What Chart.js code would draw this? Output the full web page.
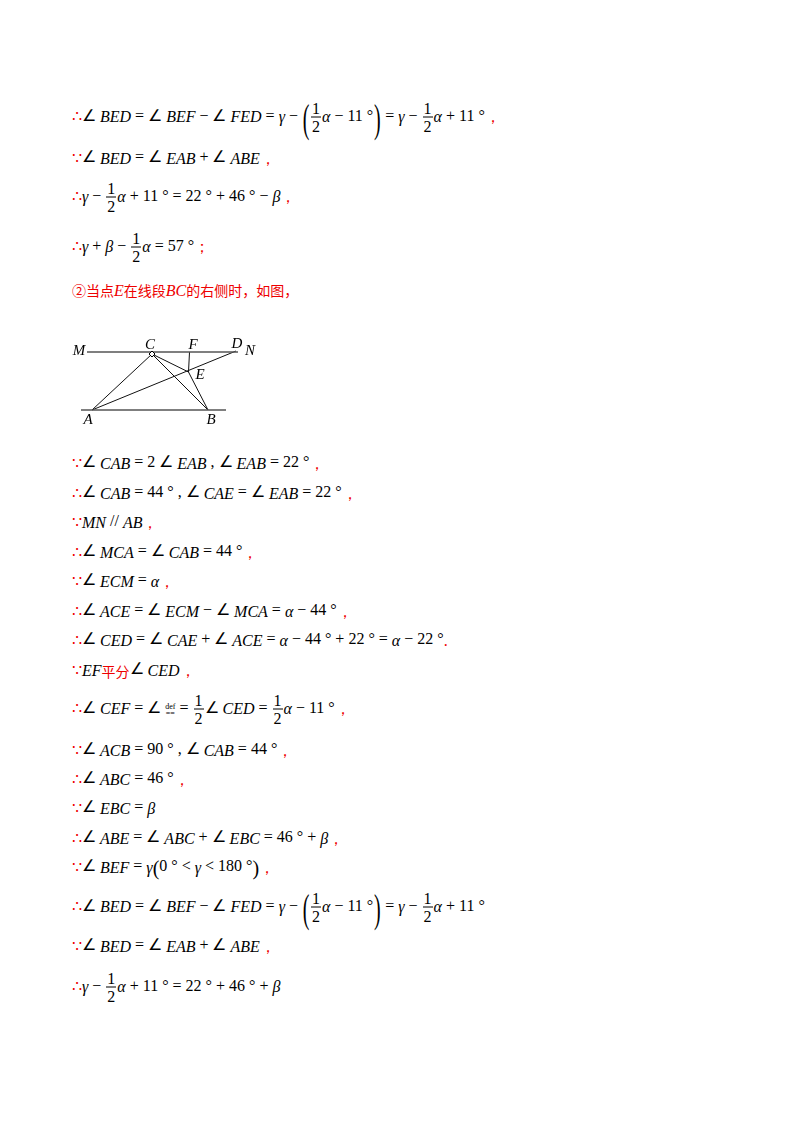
<!DOCTYPE html><html><head><meta charset="utf-8">
<script src="https://cdn.jsdelivr.net/npm/chart.js"></script>
<style>
body{margin:0;width:800px;height:1132px;background:#fff;position:relative;font-family:"Liberation Serif","Times New Roman",serif;font-size:16px;color:#000}
.l{position:absolute;left:72px;white-space:pre;transform:translateY(-50%);line-height:20px}
.l>*{vertical-align:middle}
.r{color:#e00}
i{font-style:italic;font-family:"Liberation Serif",serif}
.f{display:inline-flex;flex-direction:column;align-items:center;margin:0 1px;line-height:17px}
.f span:first-child{border-bottom:1px solid #000;padding:0 1px}
.p{display:inline-block;font-size:20px;transform:scaleY(2);width:8px;text-align:center}
.cn{font-family:"Noto Sans CJK SC";font-size:14px}
#fig{position:absolute;left:60px;top:330px;width:220px;height:100px}
</style></head><body>
<div id="fig"><canvas id="c" width="220" height="100"></canvas></div>
<script>
const H='<span class="f"><span>1</span><span>2</span></span>';
const T='<span class="r">∴</span>',B='<span class="r">∵</span>',C='<span class="r">，</span>';
const lines=[
[117,T+'∠ <i>BED</i> = ∠ <i>BEF</i> − ∠ <i>FED</i> = <i>γ</i> − <span class="p">(</span>'+H+'<i>α</i> − 11 °<span class="p">)</span> = <i>γ</i> − '+H+'<i>α</i> + 11 °'+C],
[158,B+'∠ <i>BED</i> = ∠ <i>EAB</i> + ∠ <i>ABE</i>'+C],
[197,T+'<i>γ</i> − '+H+'<i>α</i> + 11 ° = 22 ° + 46 ° − <i>β</i>'+C],
[247,T+'<i>γ</i> + <i>β</i> − '+H+'<i>α</i> = 57 °<span class="r">；</span>'],
[290,'<span class="r cn">②当点<i style="font-size:16px">E</i>在线段<i style="font-size:16px">BC</i>的右侧时，如图，</span>'],
[463,B+'∠ <i>CAB</i> = 2 ∠ <i>EAB</i> , ∠ <i>EAB</i> = 22 °'+C],
[493,T+'∠ <i>CAB</i> = 44 ° , ∠ <i>CAE</i> = ∠ <i>EAB</i> = 22 °'+C],
[522,B+'<i>MN</i> // <i>AB</i>'+C],
[552,T+'∠ <i>MCA</i> = ∠ <i>CAB</i> = 44 °'+C],
[581,B+'∠ <i>ECM</i> = <i>α</i>'+C],
[611,T+'∠ <i>ACE</i> = ∠ <i>ECM</i> − ∠ <i>MCA</i> = <i>α</i> − 44 °'+C],
[640,T+'∠ <i>CED</i> = ∠ <i>CAE</i> + ∠ <i>ACE</i> = <i>α</i> − 44 ° + 22 ° = <i>α</i> − 22 °'+'<span class="r">.</span>'],
[670,B+'<i>EF</i><span class="r cn">平分</span>∠ <i>CED</i>'+C],
[709,T+'∠ <i>CEF</i> = ∠ <span style="font-size:8px;line-height:7px;display:inline-block;text-align:center">def<br>==</span> = '+H+'∠ <i>CED</i> = '+H+'<i>α</i> − 11 °'+C],
[750,B+'∠ <i>ACB</i> = 90 ° , ∠ <i>CAB</i> = 44 °'+C],
[779,T+'∠ <i>ABC</i> = 46 °'+C],
[808,B+'∠ <i>EBC</i> = <i>β</i>'],
[838,T+'∠ <i>ABE</i> = ∠ <i>ABC</i> + ∠ <i>EBC</i> = 46 ° + <i>β</i>'+C],
[867,B+'∠ <i>BEF</i> = <i>γ</i><span style="font-size:20px">(</span>0 ° &lt; <i>γ</i> &lt; 180 °<span style="font-size:20px">)</span>'+C],
[907,T+'∠ <i>BED</i> = ∠ <i>BEF</i> − ∠ <i>FED</i> = <i>γ</i> − <span class="p">(</span>'+H+'<i>α</i> − 11 °<span class="p">)</span> = <i>γ</i> − '+H+'<i>α</i> + 11 °'],
[946,B+'∠ <i>BED</i> = ∠ <i>EAB</i> + ∠ <i>ABE</i>'+C],
[987,T+'<i>γ</i> − '+H+'<i>α</i> + 11 ° = 22 ° + 46 ° + <i>β</i>']];
for(const [y,h] of lines){const d=document.createElement('div');d.className='l';d.style.top=y+'px';d.innerHTML=h;document.body.appendChild(d);}
const segNames=['MN','AB','AC','AD','CB','CE','EB','FE'];
const segX=[[87,238],[81,226],[92,152],[92,236],[152,208],[152,188.5],[188.5,208],[189.5,188.5]];
const segY=[[352,352],[410,410],[410,354],[410,351],[354,410],[354,372],[372,410],[352,372]];
const labNames=['M','C','F','D','N','E','A','B'];
const labX=[79,150,193,237,250,200,88,211];
const labY=[351,345,345,344,351,375,420,420];
Chart.register({id:'labs',afterDatasetsDraw(ch){const c=ch.ctx,xs=ch.scales.x,ys=ch.scales.y;c.save();c.font='italic 15px "Liberation Serif"';c.fillStyle='#000';c.textAlign='center';c.textBaseline='middle';labNames.forEach((n,i)=>c.fillText(n,xs.getPixelForValue(labX[i]),ys.getPixelForValue(labY[i])));
const px=xs.getPixelForValue(152),py=ys.getPixelForValue(354);c.strokeStyle='#000';c.lineWidth=1;c.beginPath();c.moveTo(px-3,py);c.lineTo(px,py+3);c.lineTo(px+3,py);c.lineTo(px,py-3);c.closePath();c.fillStyle='#fff';c.fill();c.stroke();c.restore();}});
new Chart(document.getElementById('c'),{type:'scatter',data:{datasets:segNames.map((n,i)=>({label:n,data:[{x:segX[i][0],y:segY[i][0]},{x:segX[i][1],y:segY[i][1]}],showLine:true,borderColor:i<2?'#555':'#111',borderWidth:i<2?1.3:1,pointRadius:0}))},
options:{responsive:false,animation:false,maintainAspectRatio:false,layout:{padding:0},plugins:{legend:{display:false},tooltip:{enabled:false}},
scales:{x:{type:'linear',min:60,max:280,display:false},y:{type:'linear',min:330,max:430,reverse:true,display:false}}}});
</script>
</body></html>
